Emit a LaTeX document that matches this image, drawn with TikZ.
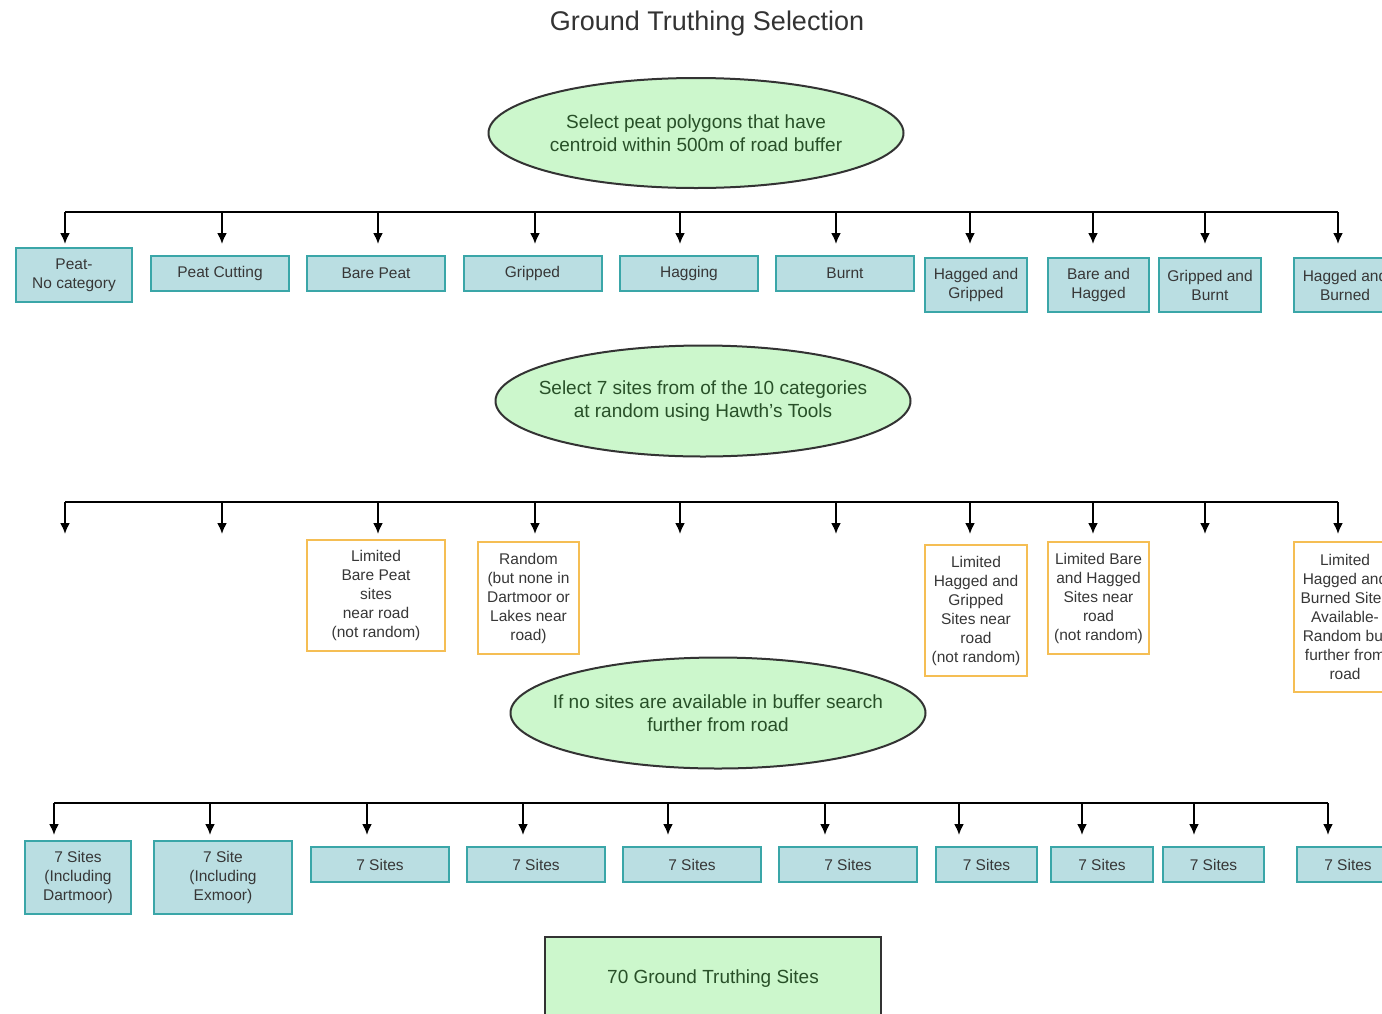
\documentclass[tikz,border=0pt]{standalone}
\usepackage{fontspec}
\setmainfont{Liberation Sans}
\usetikzlibrary{arrows.meta, shapes.geometric, calc, positioning}
\definecolor{tealFill}{RGB}{186,222,226}
\definecolor{tealLine}{RGB}{58,166,168}
\definecolor{noteLine}{RGB}{245,190,84}
\definecolor{ovalFill}{RGB}{204,247,204}
\definecolor{ovalText}{RGB}{40,80,40}
\definecolor{boxText}{RGB}{55,55,55}
\tikzset{
    catBox/.style={rectangle, draw=tealLine, fill=tealFill, line width=2pt, inner sep=0pt, align=center, text=boxText, font=\fontsize{15.5}{19}\selectfont},
    noteBox/.style={rectangle, draw=noteLine, fill=white, line width=2.5pt, inner sep=0pt, align=center, text=boxText, font=\fontsize{15.5}{19}\selectfont},
    stepOval/.style={ellipse, draw=black!80, fill=ovalFill, line width=2pt, inner xsep=-30pt, inner ysep=0pt, minimum width=415pt, minimum height=110pt, align=center, text=ovalText, font=\fontsize{19}{23.5}\selectfont},
    busLine/.style={line width=2pt, black},
    dropArrow/.style={-{Latex[length=11pt,width=10pt]}, line width=2pt, black},
}
\newcommand{\drawDrops}[3]{
    % one arrow down from the bus for each x
    \foreach \x [count=\i] in {#3} {
        \coordinate (#1\i) at (\x,#2);
        \draw[dropArrow] (#1\i |- #1L) -- (#1\i);
    }
}

\begin{document}
\begin{tikzpicture}[x=1pt, y=-1pt]
    \useasboundingbox (0,0) rectangle (1382,1013);
    \clip (0,0) rectangle (1382,1013);

    % title
    \node[font=\fontsize{27}{32}\selectfont, text=black!80] (title) at (707,24) {Ground Truthing Selection};

    % first selection step
    \node[stepOval] (sel1) at (696,133) {Select peat polygons that have\\centroid within 500m of road buffer};

    \coordinate (topL) at (65,212);
    \coordinate (topR) at (1338,212);
    \draw[busLine] (topL) -- (topR);
    \drawDrops{top}{244}{65,222,378,535,680,836,970,1093,1205,1338}

    \node[catBox, minimum width=116pt, minimum height=54pt] (pnc) at (74,275) {Peat-\\No category};
    \node[catBox, minimum width=138pt, minimum height=35pt] (pct) at (220,273.5) {Peat Cutting};
    \node[catBox, minimum width=138pt, minimum height=35pt] (bpt) at (376,273.5) {Bare Peat};
    \node[catBox, minimum width=138pt, minimum height=35pt] (grp) at (532.5,273.5) {Gripped};
    \node[catBox, minimum width=138pt, minimum height=35pt] (hag) at (689,273.5) {Hagging};
    \node[catBox, minimum width=138pt, minimum height=35pt] (brn) at (845,273.5) {Burnt};
    \node[catBox, minimum width=102pt, minimum height=54pt] (hgr) at (976,285) {Hagged and\\Gripped};
    \node[catBox, minimum width=101pt, minimum height=54pt] (bhg) at (1098.5,285) {Bare and\\Hagged};
    \node[catBox, minimum width=102pt, minimum height=54pt] (gbn) at (1210,285) {Gripped and\\Burnt};
    \node[catBox, minimum width=102pt, minimum height=54pt] (hbn) at (1345,285) {Hagged and\\Burned};

    % second selection step
    \node[stepOval, minimum height=111pt] (sel2) at (703,401) {Select 7 sites from of the 10 categories\\at random using Hawth's Tools};

    \coordinate (midL) at (65,502);
    \coordinate (midR) at (1338,502);
    \draw[busLine] (midL) -- (midR);
    \drawDrops{mid}{534}{65,222,378,535,680,836,970,1093,1205,1338}

    \node[noteBox, minimum width=138pt, minimum height=111pt] (nbp) at (376,595.5) {Limited\\Bare Peat\\sites\\near road\\(not random)};
    \node[noteBox, minimum width=101pt, minimum height=112pt] (ngr) at (528.5,598) {Random\\(but none in\\Dartmoor or\\Lakes near\\road)};
    \node[noteBox, minimum width=102pt, minimum height=131pt] (nhg) at (976,610.5) {Limited\\Hagged and\\Gripped\\Sites near\\road\\(not random)};
    \node[noteBox, minimum width=101pt, minimum height=112pt] (nbh) at (1098.5,598) {Limited Bare\\and Hagged\\Sites near\\road\\(not random)};
    \node[noteBox, minimum width=102pt, minimum height=150pt] (nhb) at (1345,617) {Limited\\Hagged and\\Burned Sites\\Available-\\Random but\\further from\\road};

    % fallback step
    \node[stepOval, minimum height=111pt] (sel3) at (718,713) {If no sites are available in buffer search\\further from road};

    \coordinate (lowL) at (54,803);
    \coordinate (lowR) at (1328,803);
    \draw[busLine] (lowL) -- (lowR);
    \drawDrops{low}{835}{54,210,367,523,668,825,959,1082,1194,1328}

    \node[catBox, minimum width=106pt, minimum height=73pt] (s1) at (78,877.5) {7 Sites\\(Including\\Dartmoor)};
    \node[catBox, minimum width=138pt, minimum height=73pt] (s2) at (223,877.5) {7 Site\\(Including\\Exmoor)};
    \node[catBox, minimum width=138pt, minimum height=35pt] (s3) at (380,864.5) {7 Sites};
    \node[catBox, minimum width=138pt, minimum height=35pt] (s4) at (536,864.5) {7 Sites};
    \node[catBox, minimum width=138pt, minimum height=35pt] (s5) at (692,864.5) {7 Sites};
    \node[catBox, minimum width=138pt, minimum height=35pt] (s6) at (848,864.5) {7 Sites};
    \node[catBox, minimum width=101pt, minimum height=35pt] (s7) at (986.5,864.5) {7 Sites};
    \node[catBox, minimum width=102pt, minimum height=35pt] (s8) at (1102,864.5) {7 Sites};
    \node[catBox, minimum width=101pt, minimum height=35pt] (s9) at (1213.5,864.5) {7 Sites};
    \node[catBox, minimum width=102pt, minimum height=35pt] (s10) at (1348,864.5) {7 Sites};

    % result
    \node[rectangle, draw=black!80, fill=ovalFill, line width=2pt, minimum width=336pt, minimum height=84pt, text=ovalText, font=\fontsize{19}{23}\selectfont] (total) at (713,979) {70 Ground Truthing Sites};

\end{tikzpicture}
\end{document}
